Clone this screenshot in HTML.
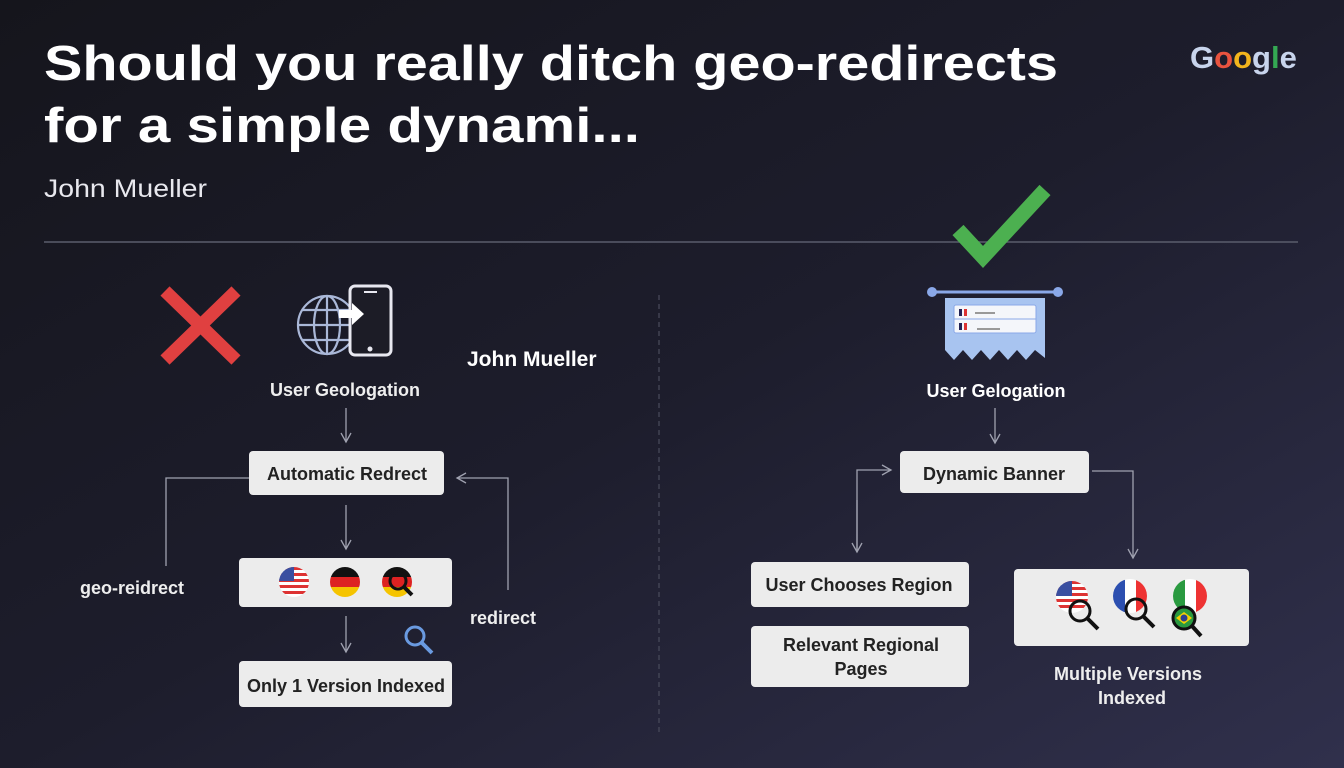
<!DOCTYPE html>
<html><head><meta charset="utf-8"><style>
html,body{margin:0;padding:0;background:#1a1a24;}
svg{display:block}
text{font-family:"Liberation Sans",sans-serif;}
</style></head><body>
<svg width="1344" height="768" viewBox="0 0 1344 768" xmlns="http://www.w3.org/2000/svg">
<defs>
<linearGradient id="bg" x1="0" y1="0" x2="1" y2="1">
<stop offset="0" stop-color="#15151c"/><stop offset="0.5" stop-color="#1d1d2c"/><stop offset="1" stop-color="#30304c"/>
</linearGradient>
<marker id="ah" viewBox="0 0 12 12" refX="10" refY="6" markerWidth="12" markerHeight="12" markerUnits="userSpaceOnUse" orient="auto">
<path d="M1,1 L10,6 L1,11" fill="none" stroke="#a0a2b0" stroke-width="1.3"/>
</marker>
</defs>
<rect width="1344" height="768" fill="url(#bg)"/>

<text x="44" y="80" font-size="49" font-weight="bold" fill="#fff" textLength="1014" lengthAdjust="spacingAndGlyphs">Should you really ditch geo-redirects</text>
<text x="44" y="142" font-size="49" font-weight="bold" fill="#fff" textLength="596" lengthAdjust="spacingAndGlyphs">for a simple dynami...</text>
<text x="44" y="197" font-size="25" fill="#e8e8ee" textLength="163" lengthAdjust="spacingAndGlyphs">John Mueller</text>

<g font-size="31" font-weight="bold" textLength="107">
<text x="1190" y="68" font-size="31" font-weight="bold"><tspan fill="#c8d4ec">G</tspan><tspan fill="#e8533f">o</tspan><tspan fill="#f2b51d">o</tspan><tspan fill="#c8d4ec">g</tspan><tspan fill="#34a853">l</tspan><tspan fill="#c8d4ec">e</tspan></text>
</g>

<line x1="44" y1="242" x2="1298" y2="242" stroke="#5a5d6c" stroke-width="1.5"/>
<line x1="659" y1="295" x2="659" y2="735" stroke="#4a4c5c" stroke-width="1.2" stroke-dasharray="5,4"/>

<!-- red X -->
<g stroke="#e04040" stroke-width="13">
<line x1="165" y1="291" x2="236" y2="360"/><line x1="236" y1="291" x2="165" y2="360"/>
</g>
<!-- green check -->
<polyline points="958,230 983,257 1045,190" fill="none" stroke="#4cb050" stroke-width="15"/>

<!-- globe + phone -->
<g fill="none" stroke="#aab8d8" stroke-width="2.2">
<circle cx="327" cy="325" r="29"/>
<ellipse cx="327" cy="325" rx="13" ry="29"/>
<line x1="298" y1="325" x2="356" y2="325"/><line x1="327" y1="296" x2="327" y2="354"/>
<path d="M302,310 H352 M302,340 H352"/>
</g>
<rect x="350" y="286" width="41" height="69" rx="5" fill="#1c1c26" stroke="#e8e8f0" stroke-width="3"/>
<line x1="364" y1="292" x2="377" y2="292" stroke="#e8e8f0" stroke-width="2"/>
<circle cx="370" cy="349" r="2.5" fill="#e8e8f0"/>
<path d="M339,310 H352 V303 L364,314 L352,325 V318 H339 Z" fill="#fff"/>

<text x="345" y="396" font-size="18" font-weight="bold" fill="#eee" text-anchor="middle">User Geologation</text>
<text x="467" y="366" font-size="21" font-weight="bold" fill="#fff">John Mueller</text>

<g stroke="#a0a2b0" stroke-width="1.3" fill="none">
<line x1="346" y1="408" x2="346" y2="442" marker-end="url(#ah)"/>
<polyline points="249,478 166,478 166,566"/>
<polyline points="508,590 508,478 457,478" marker-end="url(#ah)"/>
<line x1="346" y1="505" x2="346" y2="549" marker-end="url(#ah)"/>
<line x1="346" y1="616" x2="346" y2="652" marker-end="url(#ah)"/>
<line x1="995" y1="408" x2="995" y2="443" marker-end="url(#ah)"/>
<polyline points="857,552 857,470 891,470" marker-end="url(#ah)"/>
<polyline points="1092,471 1133,471 1133,558" marker-end="url(#ah)"/>
</g>
<line x1="857" y1="500" x2="857" y2="552" stroke="#a0a2b0" stroke-width="1.3" marker-end="url(#ah)"/>

<g fill="#ececec">
<rect x="249" y="451" width="195" height="44" rx="4"/>
<rect x="239" y="558" width="213" height="49" rx="4"/>
<rect x="239" y="661" width="213" height="46" rx="4"/>
<rect x="900" y="451" width="189" height="42" rx="4"/>
<rect x="751" y="562" width="218" height="45" rx="4"/>
<rect x="751" y="626" width="218" height="61" rx="4"/>
<rect x="1014" y="569" width="235" height="77" rx="4"/>
</g>
<g font-size="18" font-weight="bold" fill="#222" text-anchor="middle">
<text x="347" y="480">Automatic Redrect</text>
<text x="346" y="692">Only 1 Version Indexed</text>
<text x="994" y="480">Dynamic Banner</text>
<text x="859" y="591">User Chooses Region</text>
<text x="861" y="651">Relevant Regional</text>
<text x="861" y="675">Pages</text>
</g>
<g font-size="18" font-weight="bold" fill="#eee">
<text x="80" y="594">geo-reidrect</text>
<text x="470" y="624">redirect</text>
<text x="1128" y="680" text-anchor="middle">Multiple Versions</text>
<text x="1132" y="704" text-anchor="middle">Indexed</text>
<text x="996" y="397" text-anchor="middle" fill="#fff">User Gelogation</text>
</g>

<!-- left flags -->
<clipPath id="c1"><circle cx="294" cy="582" r="15"/></clipPath>
<g clip-path="url(#c1)"><rect x="279" y="567" width="30" height="30" fill="#fff"/>
<g fill="#d33"><rect x="279" y="567" width="30" height="3"/><rect x="279" y="573" width="30" height="3"/><rect x="279" y="579" width="30" height="3"/><rect x="279" y="585" width="30" height="3"/><rect x="279" y="591" width="30" height="3"/></g>
<rect x="279" y="567" width="15" height="14" fill="#3a4fa0"/></g>
<clipPath id="c2"><circle cx="345" cy="582" r="15"/></clipPath>
<g clip-path="url(#c2)"><rect x="330" y="567" width="30" height="10" fill="#111"/><rect x="330" y="577" width="30" height="10" fill="#dd2222"/><rect x="330" y="587" width="30" height="10" fill="#f5c400"/></g>
<clipPath id="c3"><circle cx="397" cy="582" r="15"/></clipPath>
<g clip-path="url(#c3)"><rect x="382" y="567" width="30" height="10" fill="#111"/><rect x="382" y="577" width="30" height="10" fill="#dd2222"/><rect x="382" y="587" width="30" height="10" fill="#f5c400"/></g>
<circle cx="398" cy="581" r="8" fill="none" stroke="#111" stroke-width="3"/><line x1="404" y1="587" x2="412" y2="595" stroke="#111" stroke-width="4"/>
<!-- blue magnifier -->
<circle cx="415" cy="636" r="9" fill="none" stroke="#6a9ae0" stroke-width="3"/><line x1="422" y1="643" x2="432" y2="653" stroke="#6a9ae0" stroke-width="4"/>

<!-- banner icon -->
<line x1="932" y1="292" x2="1058" y2="292" stroke="#8aa8e8" stroke-width="3"/>
<circle cx="932" cy="292" r="5" fill="#8aa8e8"/><circle cx="1058" cy="292" r="5" fill="#8aa8e8"/>
<path d="M945,298 H1045 V358 L1035,350 L1026,360 L1017,350 L1008,360 L999,350 L990,360 L981,350 L972,360 L963,350 L954,360 L945,350 Z" fill="#a8c4f0"/>
<rect x="954" y="305" width="82" height="28" rx="2" fill="#f4f6fa" stroke="#8aa8e8"/>
<line x1="954" y1="319" x2="1036" y2="319" stroke="#8aa8e8"/>
<rect x="959" y="309" width="3" height="7" fill="#225"/><rect x="964" y="309" width="3" height="7" fill="#d33"/>
<rect x="959" y="323" width="3" height="7" fill="#225"/><rect x="964" y="323" width="3" height="7" fill="#d33"/>
<line x1="975" y1="313" x2="995" y2="313" stroke="#999" stroke-width="2"/><line x1="977" y1="329" x2="1000" y2="329" stroke="#999" stroke-width="2"/>

<!-- right flags -->
<clipPath id="d1"><circle cx="1072" cy="597" r="16"/></clipPath>
<g clip-path="url(#d1)"><rect x="1056" y="581" width="32" height="32" fill="#fff"/>
<g fill="#d33"><rect x="1056" y="581" width="32" height="3"/><rect x="1056" y="587" width="32" height="3"/><rect x="1056" y="593" width="32" height="3"/><rect x="1056" y="599" width="32" height="3"/><rect x="1056" y="605" width="32" height="3"/></g>
<rect x="1056" y="581" width="16" height="15" fill="#3a4fa0"/></g>
<clipPath id="d2"><circle cx="1130" cy="596" r="17"/></clipPath>
<g clip-path="url(#d2)"><rect x="1113" y="579" width="12" height="34" fill="#2c4fb0"/><rect x="1125" y="579" width="11" height="34" fill="#fff"/><rect x="1136" y="579" width="11" height="34" fill="#e33"/></g>
<clipPath id="d3"><circle cx="1190" cy="596" r="17"/></clipPath>
<g clip-path="url(#d3)"><rect x="1173" y="579" width="12" height="34" fill="#2a9a40"/><rect x="1185" y="579" width="11" height="34" fill="#fff"/><rect x="1196" y="579" width="11" height="34" fill="#e33"/></g>
<circle cx="1184" cy="618" r="11" fill="#2a9a40" stroke="#111" stroke-width="3"/><path d="M1176,618 L1184,612 L1192,618 L1184,624 Z" fill="#f5d000"/><circle cx="1184" cy="618" r="3.5" fill="#2c3f90"/>
<line x1="1192" y1="626" x2="1201" y2="636" stroke="#111" stroke-width="4"/>
<g fill="none" stroke="#111" stroke-width="3">
<circle cx="1080" cy="611" r="10"/><circle cx="1136" cy="609" r="10"/>
</g>
<line x1="1087" y1="618" x2="1098" y2="629" stroke="#111" stroke-width="4"/>
<line x1="1143" y1="616" x2="1154" y2="627" stroke="#111" stroke-width="4"/>
</svg>
</body></html>
